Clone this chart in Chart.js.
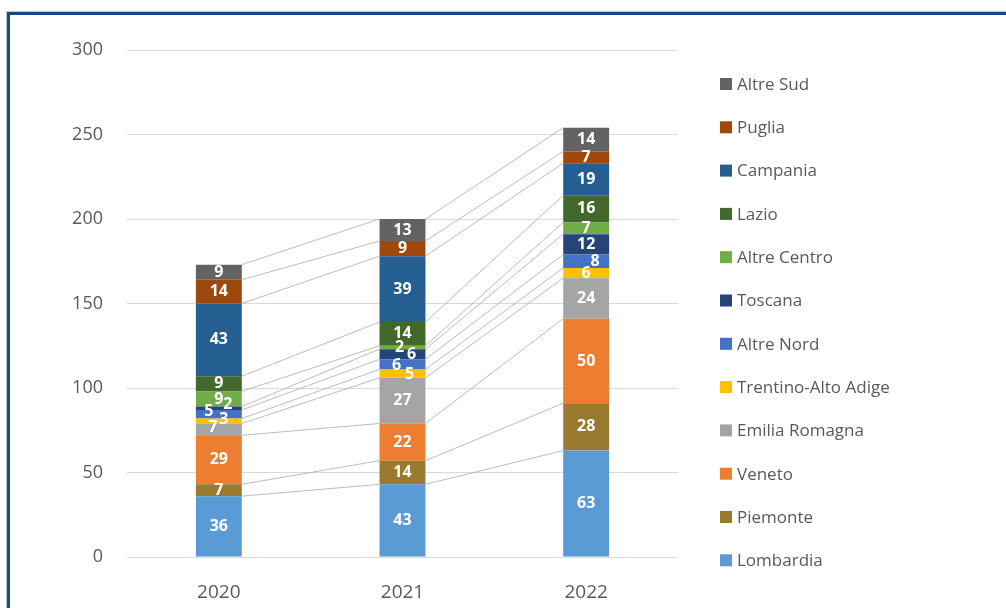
<!DOCTYPE html>
<html>
<head>
<meta charset="utf-8">
<script src="https://cdn.jsdelivr.net/npm/chart.js@4.4.0/dist/chart.umd.min.js"></script>
<style>
  html, body { margin: 0; padding: 0; background: #fff; overflow: hidden; }
  #wrap { position: relative; width: 1006px; height: 608px; }
  #frame { position: absolute; left: 7px; top: 12px; width: 1100px; height: 700px;
           border: 3px solid #1b4b80; box-shadow: -1px -1px 0 #c8c8c8;
           box-sizing: border-box; pointer-events: none; }
  canvas { position: absolute; left: 0; top: 0; }
</style>
</head>
<body>
<div id="wrap">
  <canvas id="chart" width="1006" height="608"></canvas>
  <div id="frame"></div>
</div>
<script>
  // dati (dal basso verso l'alto)
  const years = ['2020', '2021', '2022'];
  const regions = ['Lombardia', 'Piemonte', 'Veneto', 'Emilia Romagna', 'Trentino-Alto Adige',
                   'Altre Nord', 'Toscana', 'Altre Centro', 'Lazio', 'Campania', 'Puglia', 'Altre Sud'];
  const lombardia = [36, 43, 63];
  const piemonte = [7, 14, 28];
  const veneto = [29, 22, 50];
  const emilia = [7, 27, 24];
  const trentino = [3, 5, 6];
  const altreNord = [5, 6, 8];
  const toscana = [2, 6, 12];
  const altreCentro = [9, 2, 7];
  const lazio = [9, 14, 16];
  const campania = [43, 39, 19];
  const puglia = [14, 9, 7];
  const altreSud = [9, 13, 14];
  const yTicks = [0, 50, 100, 150, 200, 250, 300];

  const seriesValues = [lombardia, piemonte, veneto, emilia, trentino, altreNord,
                        toscana, altreCentro, lazio, campania, puglia, altreSud];
  const colors = ['#5b9bd5', '#997a2e', '#ed7d31', '#a5a5a5', '#ffc000', '#4472c4',
                  '#264478', '#70ad47', '#43682b', '#255e91', '#9e480e', '#636363'];

  // spostamenti etichette piccole (stile Excel)
  const labelShift = {
    '6-0': [9, -4], '5-0': [-10, -3], '4-0': [5, -2], '3-0': [-6, -2],
    '7-1': [-3, 0], '6-1': [9, 0], '5-1': [-6, 1], '4-1': [7, 1],
    '5-2': [9, 0]
  };

  const FONT = '"Open Sans", "DejaVu Sans", sans-serif';

  const datasets = regions.map((name, i) => ({
    label: name,
    data: seriesValues[i],
    backgroundColor: colors[i],
    borderWidth: 0,
    categoryPercentage: 1.0,
    barPercentage: 0.25
  }));

  // linee di serie + etichette + legenda
  const extras = {
    id: 'extras',
    afterDatasetsDraw(chart) {
      const ctx = chart.ctx;
      ctx.save();
      // linee di collegamento
      ctx.strokeStyle = '#a6a6a6';
      ctx.lineWidth = 0.75;
      chart.data.datasets.forEach((ds, di) => {
        const meta = chart.getDatasetMeta(di);
        for (let i = 0; i < meta.data.length - 1; i++) {
          const a = meta.data[i], b = meta.data[i + 1];
          ctx.beginPath();
          ctx.moveTo(a.x + a.width / 2, a.y);
          ctx.lineTo(b.x - b.width / 2, b.y);
          ctx.stroke();
        }
      });
      // etichette
      ctx.fillStyle = '#ffffff';
      ctx.font = 'bold 16px ' + FONT;
      ctx.textAlign = 'center';
      ctx.textBaseline = 'middle';
      chart.data.datasets.forEach((ds, di) => {
        const meta = chart.getDatasetMeta(di);
        meta.data.forEach((bar, i) => {
          const sh = labelShift[di + '-' + i] || [0, 0];
          const cy = (bar.y + bar.base) / 2;
          ctx.fillText(String(ds.data[i]), bar.x + sh[0], cy + sh[1]);
        });
      });
      // legenda (ordine inverso)
      ctx.font = '17px ' + FONT;
      ctx.textAlign = 'left';
      const n = chart.data.datasets.length;
      for (let k = 0; k < n; k++) {
        const di = n - 1 - k;
        const y = 84 + k * 43.3;
        ctx.fillStyle = colors[di];
        ctx.fillRect(720, y - 6, 12, 12);
        ctx.fillStyle = '#595959';
        ctx.fillText(chart.data.datasets[di].label, 737, y + 1);
      }
      ctx.restore();
    }
  };

  const ctx = document.getElementById('chart').getContext('2d');
  const chart = new Chart(ctx, {
    type: 'bar',
    data: { labels: years, datasets: datasets },
    options: {
      responsive: false,
      animation: false,
      layout: { padding: { left: 0, right: 328, top: 50, bottom: 0 } },
      plugins: { legend: { display: false }, tooltip: { enabled: false } },
      scales: {
        x: {
          stacked: true,
          grid: { display: false },
          border: { display: false },
          ticks: { color: '#595959', font: { family: FONT, size: 19 }, padding: 16 },
          afterFit(scale) { scale.height = 51; }
        },
        y: {
          stacked: true,
          min: 0, max: 300,
          afterBuildTicks(scale) { scale.ticks = yTicks.map(v => ({ value: v })); },
          grid: { color: '#d9d9d9', lineWidth: 1, drawTicks: false },
          border: { display: false },
          ticks: { color: '#595959', font: { family: FONT, size: 18 }, padding: 24 },
          afterFit(scale) { scale.width = 127; }
        }
      }
    },
    plugins: [extras]
  });
</script>
</body>
</html>
